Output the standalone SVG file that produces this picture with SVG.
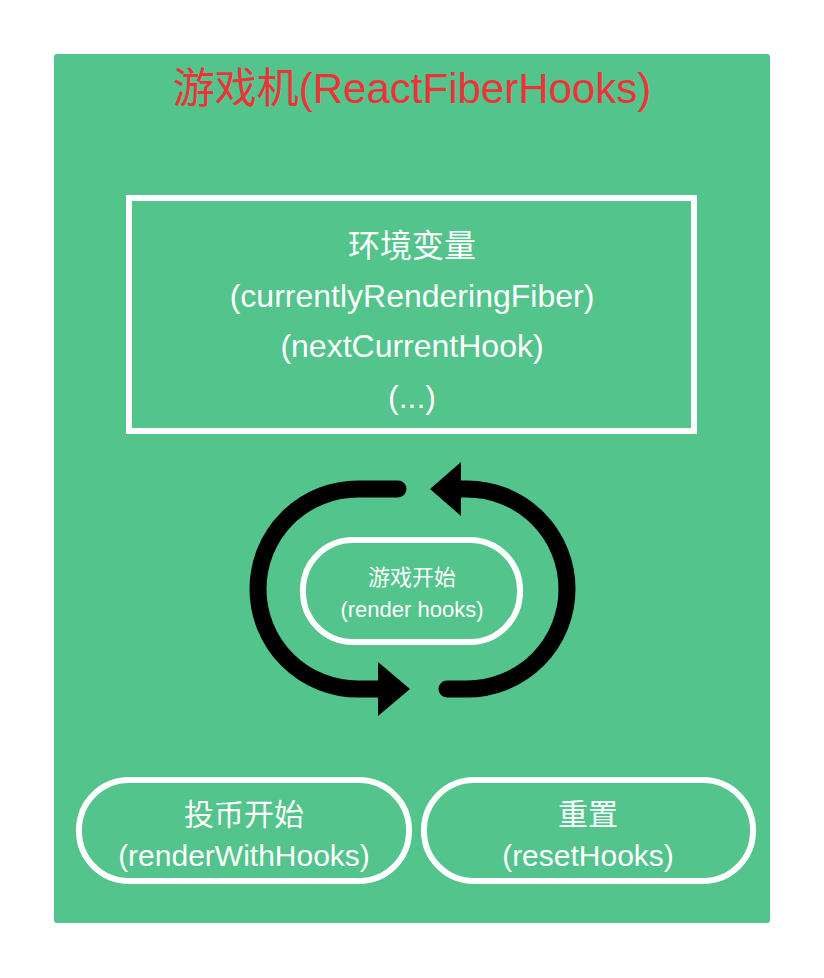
<svg xmlns="http://www.w3.org/2000/svg" width="824" height="978" viewBox="0 0 824 978">
<style>
.t{font-family:"Liberation Sans","Noto Sans CJK SC",sans-serif;fill:#fff;text-anchor:middle}
.b{fill:none;stroke:#fff;stroke-width:6}
.c{fill:none;stroke:#000;stroke-width:17;stroke-linecap:round}
</style>
<rect width="824" height="978" fill="#fff"/>
<g id="machine">
<rect x="54" y="54" width="716" height="869" rx="3" fill="#52c48c"/>
<text x="412" y="103" font-size="42" font-family="Liberation Sans,Noto Sans CJK SC,sans-serif" fill="#ee3338" text-anchor="middle">游戏机(ReactFiberHooks)</text>
</g>
<g id="env">
<rect class="b" x="129" y="198" width="565" height="233"/>
<text class="t" font-size="32" x="412" y="257">环境变量</text>
<text class="t" font-size="32" x="412" y="307">(currentlyRenderingFiber)</text>
<text class="t" font-size="32" x="412" y="357">(nextCurrentHook)</text>
<text class="t" font-size="32" x="412" y="408">(...)</text>
</g>
<g id="connectors">
<path class="c" d="M398,489 H358 A100,100 0 0 0 358,689 H385"/>
<polygon points="378,662 410,689 378,716" fill="#000"/>
<path class="c" d="M447,689 H467 A100,100 0 0 0 467,489 H445"/>
<polygon points="461,462 430,489 461,516" fill="#000"/>
</g>
<g id="render">
<rect class="b" x="303" y="540" width="217" height="102" rx="50"/>
<text class="t" font-size="22" x="412" y="585">游戏开始</text>
<text class="t" font-size="22" x="412" y="617">(render hooks)</text>
</g>
<g id="renderWithHooks">
<rect class="b" x="79" y="780" width="330" height="101" rx="50"/>
<text class="t" font-size="30" x="244" y="825">投币开始</text>
<text class="t" font-size="30" x="244" y="866">(renderWithHooks)</text>
</g>
<g id="resetHooks">
<rect class="b" x="424" y="780" width="329" height="101" rx="50"/>
<text class="t" font-size="30" x="588" y="825">重置</text>
<text class="t" font-size="30" x="588" y="866">(resetHooks)</text>
</g>
</svg>
